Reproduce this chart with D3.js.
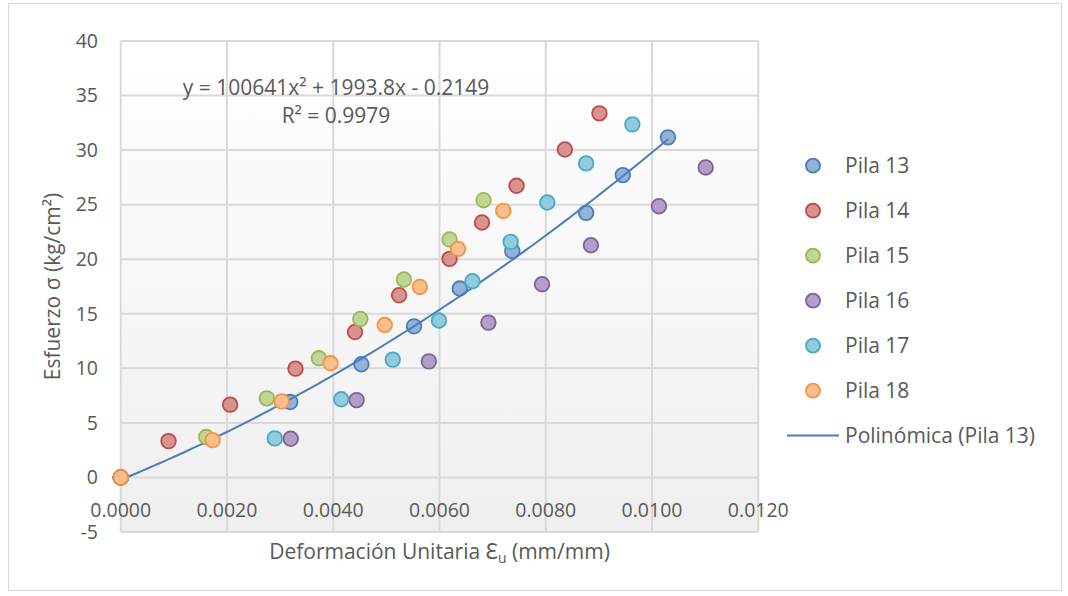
<!DOCTYPE html>
<html><head><meta charset="utf-8">
<script src="https://cdn.jsdelivr.net/npm/d3@7"></script>
<style>body{margin:0;background:#fff}svg{display:block}text{font-family:"Open Sans","Noto Sans",sans-serif;fill:#595959}</style>
</head><body>
<svg id="c" width="1068" height="596"></svg>
<script>
const seriesNames = ["Pila 13","Pila 14","Pila 15","Pila 16","Pila 17","Pila 18"];
const seriesColors = ["#4a7ebb","#be4b48","#98b954","#7d60a0","#46aac5","#f69240"];
const pila13 = [[0,0],[0.00319,6.91],[0.00453,10.37],[0.00552,13.85],[0.00638,17.31],[0.00737,20.76],[0.00876,24.25],[0.00945,27.71],[0.01030,31.17]];
const pila14 = [[0,0],[0.00090,3.33],[0.00206,6.67],[0.00329,9.97],[0.00441,13.33],[0.00524,16.70],[0.00619,20.03],[0.00680,23.37],[0.00745,26.73],[0.00836,30.06],[0.00901,33.37]];
const pila15 = [[0,0],[0.00161,3.70],[0.00275,7.25],[0.00373,10.92],[0.00451,14.52],[0.00533,18.14],[0.00619,21.81],[0.00683,25.41]];
const pila16 = [[0,0],[0.00320,3.55],[0.00444,7.09],[0.00580,10.64],[0.00692,14.19],[0.00793,17.71],[0.00885,21.28],[0.01013,24.86],[0.01101,28.41]];
const pila17 = [[0,0],[0.00290,3.58],[0.00415,7.16],[0.00512,10.80],[0.00599,14.38],[0.00662,17.98],[0.00734,21.59],[0.00803,25.20],[0.00876,28.78],[0.00963,32.36]];
const pila18 = [[0,0],[0.00173,3.42],[0.00303,6.97],[0.00395,10.46],[0.00497,13.97],[0.00563,17.46],[0.00635,20.94],[0.00720,24.43]];
const allSeries = [pila13,pila14,pila15,pila16,pila17,pila18];
const xTicks = [0,0.002,0.004,0.006,0.008,0.010,0.012];
const yTicks = [-5,0,5,10,15,20,25,30,35,40];
const trendCoef = [100641,1993.8,-0.2149];
const trendLabel = "y = 100641x² + 1993.8x - 0.2149";
const r2Label = "R² = 0.9979";
const trendName = "Polinómica (Pila 13)";

const FS = 19.5, FT = 21;
const svg = d3.select("#c");
const L=120.7,R=758.3,T=41,B=532;
const x = d3.scaleLinear().domain([0,0.012]).range([L,R]);
const y = d3.scaleLinear().domain([-5,40]).range([B,T]);

// chart border
svg.append("rect").attr("x",8.5).attr("y",3.5).attr("width",1053).attr("height",587).attr("fill","#fff").attr("stroke","#d9d9d9");

const defs = svg.append("defs");
const lg = defs.append("linearGradient").attr("id","pg").attr("x1",0).attr("y1",0).attr("x2",0).attr("y2",1);
lg.append("stop").attr("offset","0%").attr("stop-color","#ffffff");
lg.append("stop").attr("offset","100%").attr("stop-color","#efefef");
svg.append("rect").attr("x",L).attr("y",T).attr("width",R-L).attr("height",B-T).attr("fill","url(#pg)");

// grid
svg.append("g").selectAll("line").data(yTicks).join("line")
  .attr("x1",L).attr("x2",R).attr("y1",d=>y(d)).attr("y2",d=>y(d))
  .attr("stroke","#d9d9d9").attr("stroke-width",2);
svg.append("g").selectAll("line").data(xTicks).join("line")
  .attr("x1",d=>x(d)).attr("x2",d=>x(d)).attr("y1",T).attr("y2",B)
  .attr("stroke","#d9d9d9").attr("stroke-width",2);

// y axis labels
svg.append("g").selectAll("text").data(yTicks).join("text")
  .attr("x",98).attr("y",d=>y(d)).attr("dy","0.35em").attr("text-anchor","end")
  .attr("font-size",FS).text(d=>d);
// x axis labels
svg.append("g").selectAll("text").data(xTicks).join("text")
  .attr("x",d=>x(d)).attr("y",517).attr("text-anchor","middle")
  .attr("font-size",FS).text(d=>d3.format(".4f")(d));

// axis titles
const xt = svg.append("text").attr("x",(L+R)/2).attr("y",559).attr("text-anchor","middle").attr("font-size",FT);
xt.append("tspan").text("Deformación Unitaria Ɛ");
xt.append("tspan").attr("font-size",14).attr("dy",4).text("u");
xt.append("tspan").attr("dy",-4).text(" (mm/mm)");
svg.append("text").attr("transform",`translate(60,${(T+B)/2}) rotate(-90)`).attr("text-anchor","middle")
  .attr("font-size",FT).text("Esfuerzo σ (kg/cm²)");

// trendline
const xmax = d3.max(pila13,d=>d[0]);
const tPts = d3.range(0,101).map(i=>{const xv=xmax*i/100;return [xv,trendCoef[0]*xv*xv+trendCoef[1]*xv+trendCoef[2]];});

// markers
allSeries.forEach((s,i)=>{
  const c = seriesColors[i];
  const f = d3.interpolateRgb(c,"#ffffff")(0.4);
  svg.append("g").selectAll("circle").data(s).join("circle")
    .attr("cx",d=>x(d[0])).attr("cy",d=>y(d[1])).attr("r",7.3)
    .attr("fill",f).attr("stroke",c).attr("stroke-width",1.8);
  if(i===0){
    svg.append("path").datum(tPts).attr("fill","none").attr("stroke","#4a7ebb").attr("stroke-width",2)
      .attr("d",d3.line().x(d=>x(d[0])).y(d=>y(d[1])));
  }
});

// equation
svg.append("text").attr("x",336).attr("y",95).attr("text-anchor","middle").attr("font-size",FT).text(trendLabel);
svg.append("text").attr("x",336).attr("y",123).attr("text-anchor","middle").attr("font-size",FT).text(r2Label);

// legend
const lgd = svg.append("g");
seriesNames.forEach((n,i)=>{
  const yy = 165.7+45*i;
  const c = seriesColors[i];
  lgd.append("circle").attr("cx",813).attr("cy",yy).attr("r",7).attr("fill",d3.interpolateRgb(c,"#ffffff")(0.4)).attr("stroke",c).attr("stroke-width",1.8);
  lgd.append("text").attr("x",845).attr("y",yy).attr("dy","0.35em").attr("font-size",FT).text(n);
});
lgd.append("line").attr("x1",787).attr("x2",839).attr("y1",435.5).attr("y2",435.5).attr("stroke","#4a7ebb").attr("stroke-width",2);
lgd.append("text").attr("x",845).attr("y",435.5).attr("dy","0.35em").attr("font-size",FT).text(trendName);
</script>
</body></html>
